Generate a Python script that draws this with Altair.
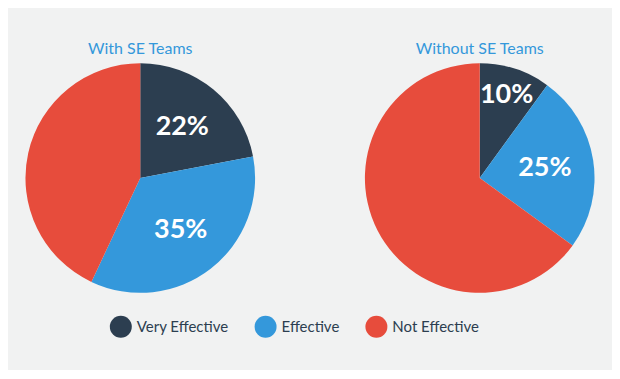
import altair as alt
import pandas as pd

groups = ["With SE Teams", "Without SE Teams"]
categories = ["Very Effective", "Effective", "Not Effective"]
with_se = [22, 35, 43]
without_se = [10, 25, 65]
colors = ["#2c3e50", "#3498db", "#e74c3c"]

rows = []
for g, vals in zip(groups, [with_se, without_se]):
    for i, (c, v) in enumerate(zip(categories, vals)):
        rows.append({"group": g, "category": c, "value": v, "order": i})
df = pd.DataFrame(rows)

FONT = "Lato"
color_enc = alt.Color("category:N", scale=alt.Scale(domain=categories, range=colors),
                      legend=alt.Legend(title=None))
theta_scale = alt.Scale(domain=[0, 100])


def panel(g):
    base = alt.Chart(df).transform_filter(alt.datum.group == g).transform_window(
        cum="sum(value)", sort=[alt.SortField("order")]
    ).transform_calculate(
        start="datum.cum - datum.value",
        mid="datum.cum - datum.value / 2",
        label="datum.value + '%'",
    )
    arcs = base.mark_arc(radius=115).encode(
        theta=alt.Theta("start:Q", scale=theta_scale),
        theta2="cum:Q",
        color=color_enc,
    )
    labelled = base.transform_filter(alt.datum.category != "Not Effective")
    txt_style = dict(fontSize=27, fontWeight="bold", color="white", font=FONT)
    t_big = labelled.transform_filter(alt.datum.value >= 15).mark_text(radius=66, **txt_style).encode(
        theta=alt.Theta("mid:Q", scale=theta_scale),
        text=alt.Text("label:N"),
    )
    t_small = labelled.transform_filter(alt.datum.value < 15).mark_text(radius=87, **txt_style).encode(
        theta=alt.Theta("mid:Q", scale=theta_scale),
        text=alt.Text("label:N"),
    )
    return alt.layer(arcs, t_big, t_small).properties(
        width=265, height=230,
        title=alt.TitleParams(g, font=FONT, fontSize=16, fontWeight="normal",
                              color="#3498db", offset=6, anchor="middle"),
    )


chart = alt.hconcat(panel(groups[0]), panel(groups[1]), spacing=75).properties(
    background="#f1f2f2",
    padding={"top": 33, "left": 0, "right": 0, "bottom": 32},
).configure_view(stroke=None).configure_legend(
    orient="none", legendX=102, legendY=253, direction="horizontal",
    symbolType="circle", symbolSize=484, symbolStrokeWidth=0,
    labelFont=FONT, labelFontSize=15, labelColor="#2c3e50",
    labelOffset=5, columnPadding=26,
)

chart.save("out.html", embed_options={"renderer": "svg", "actions": False})
